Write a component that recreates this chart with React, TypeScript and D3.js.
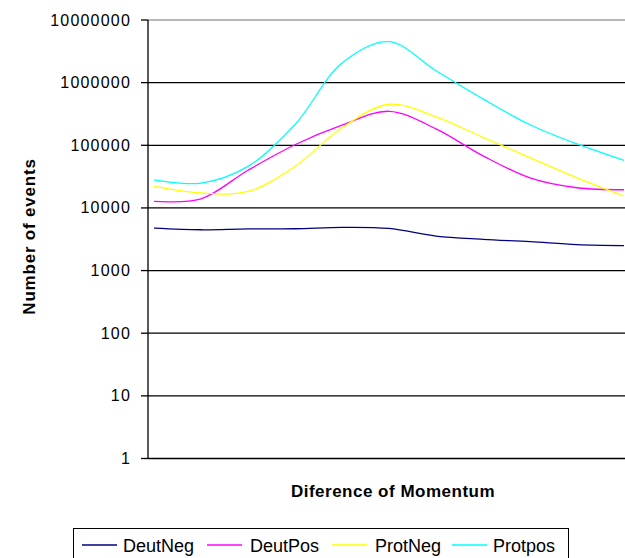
import React from "react";
import * as d3 from "d3";

const categories = [0, 1, 2, 3, 4, 5, 6, 7, 8, 9, 10];
const deutNeg = [4760, 4480, 4640, 4650, 4900, 4700, 3550, 3150, 2890, 2600, 2510];
const deutPos = [12700, 14000, 40000, 102000, 209000, 349000, 183000, 67800, 30200, 21000, 19500];
const protNeg = [22000, 17300, 18300, 46200, 190000, 452000, 285000, 134000, 63500, 30200, 15500];
const protPos = [28000, 24900, 46000, 215000, 2050000, 4500000, 1550000, 550000, 213000, 105000, 57500];
const yTicks = [1, 10, 100, 1000, 10000, 100000, 1000000, 10000000];

const seriesNames = ["DeutNeg", "DeutPos", "ProtNeg", "Protpos"];
const seriesColors = ["#000080", "#ff00ff", "#ffff00", "#00ffff"];
const seriesData = [deutNeg, deutPos, protNeg, protPos];

const W = 625;
const H = 558;
const axisX = 148;
const plotRight = 625;
const plotTop = 20;
const plotBottom = 458.5;

export default function App() {
  const x = d3.scaleLinear().domain([0, 10]).range([154, 624]);
  const y = d3.scaleLog().domain([1, 1e7]).range([plotBottom, plotTop]);
  const line = d3
    .line<number>()
    .x((_, i) => x(categories[i]))
    .y((d) => y(d))
    .curve(d3.curveCatmullRom.alpha(0.5));

  const legendItems = [
    { lx: 82, tx: 123 },
    { lx: 207, tx: 250 },
    { lx: 332, tx: 375 },
    { lx: 452, tx: 493 },
  ];

  return (
    <svg
      width={W}
      height={H}
      style={{ position: "absolute", left: 0, top: 0, background: "#fff" }}
      fontFamily="'Liberation Sans', Arial, sans-serif"
    >
      <rect x={0} y={0} width={W} height={H} fill="#fff" />
      {yTicks.map((t) => (
        <line
          key={"g" + t}
          x1={axisX}
          x2={plotRight}
          y1={y(t)}
          y2={y(t)}
          stroke={t === 1e7 ? "#a0a0a0" : "#000"}
          strokeWidth={t === 1e7 ? 1.5 : 1.3}
        />
      ))}
      <line x1={axisX} x2={axisX} y1={plotTop} y2={plotBottom} stroke="#000" strokeWidth={1.3} />
      {yTicks.map((t) => (
        <g key={"t" + t}>
          <line x1={141} x2={axisX} y1={y(t)} y2={y(t)} stroke="#000" strokeWidth={1.3} />
          <text
            x={131}
            y={y(t) + 5.5}
            textAnchor="end"
            fontSize={16}
            letterSpacing={1.2}
            fill="#000"
          >
            {String(t)}
          </text>
        </g>
      ))}
      {seriesData.map((s, i) => (
        <path
          key={seriesNames[i]}
          d={line(s) || ""}
          fill="none"
          stroke={seriesColors[i]}
          strokeWidth={1.3}
        />
      ))}
      <text
        transform="translate(35,236.5) rotate(-90)"
        textAnchor="middle"
        fontSize={17}
        fontWeight="bold"
        letterSpacing={0.8}
        fill="#000"
      >
        Number of events
      </text>
      <text x={393} y={497} textAnchor="middle" fontSize={17} fontWeight="bold" letterSpacing={0.5} fill="#000">
        Diference of Momentum
      </text>
      <rect x={73.5} y={528.5} width={495} height={40} fill="#fff" stroke="#000" strokeWidth={1} />
      {seriesNames.map((n, i) => (
        <g key={"l" + n}>
          <line
            x1={legendItems[i].lx}
            x2={legendItems[i].lx + 35}
            y1={545}
            y2={545}
            stroke={seriesColors[i]}
            strokeWidth={1.3}
          />
          <text x={legendItems[i].tx} y={552} fontSize={18} fill="#000">
            {n}
          </text>
        </g>
      ))}
    </svg>
  );
}
